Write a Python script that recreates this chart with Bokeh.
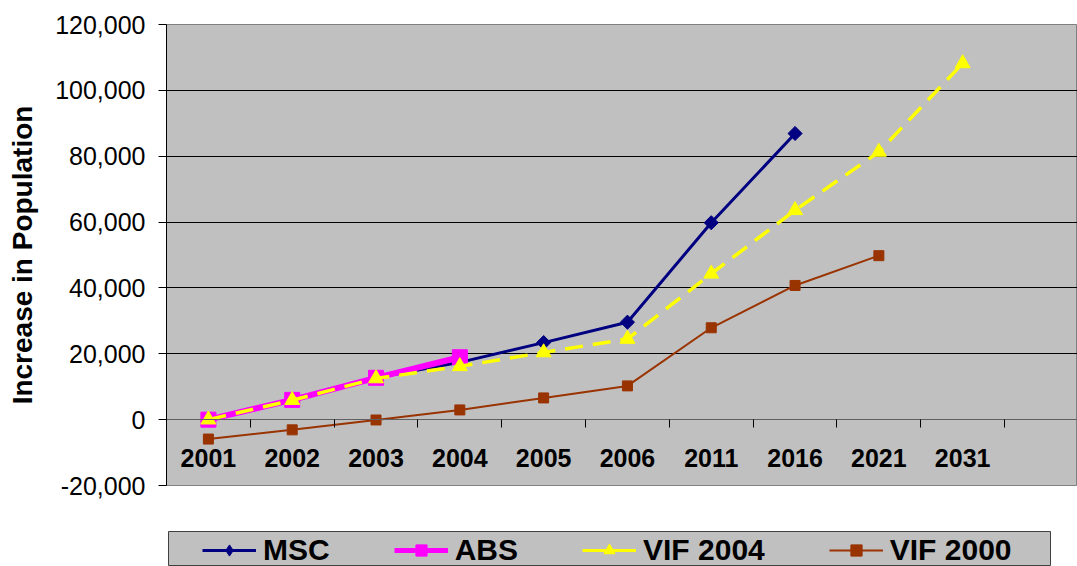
from bokeh.plotting import figure
from bokeh.layouts import column
from bokeh.models import (Range1d, FixedTicker, NumeralTickFormatter, LinearAxis,
                          Legend, LegendItem)
from bokeh.embed import file_html
from bokeh.resources import INLINE

# ---- data ----
years = ["2001", "2002", "2003", "2004", "2005", "2006", "2011", "2016", "2021", "2031"]
msc = [0, 5800, 12700, 17400, 23400, 29600, 59800, 86900]
abs_ = [0, 6000, 12700, 18950]
vif2004 = [0, 5900, 12500, 16200, 20400, 24500, 44300, 63600, 81300, 108200]
vif2000 = [-5900, -3100, -100, 2950, 6600, 10250, 27900, 40750, 49800]
y_ticks = [-20000, 0, 20000, 40000, 60000, 80000, 100000, 120000]
series_names = ["MSC", "ABS", "VIF 2004", "VIF 2000"]

FONT = "Liberation Sans"

STYLES = {
    "MSC": dict(color="#000080", width=3, dash="solid", marker="square", angle=0.785398, size=10,
                lg_width=3, lg_marker="diamond", lg_size=13),
    "ABS": dict(color="#FF00FF", width=6, dash="solid", marker="square", angle=0.0, size=15,
                lg_width=5, lg_marker="square", lg_size=14),
    "VIF 2004": dict(color="#FFFF00", width=3.5, dash="18 10", marker="triangle", angle=0.0, size=15,
                     lg_width=3, lg_marker="triangle", lg_size=11),
    "VIF 2000": dict(color="#993300", width=2, dash="solid", marker="square", angle=0.0, size=10,
                     lg_width=2, lg_marker="square", lg_size=8),
}

p = figure(width=1077, height=530, output_backend="svg", toolbar_location=None,
           x_range=Range1d(-0.5, 10.37), y_range=Range1d(-20000, 120000),
           min_border_left=166, min_border_right=0, min_border_top=24,
           min_border_bottom=45, x_axis_location=None, y_axis_location=None)
p.frame_align = False
p.background_fill_color = "#C0C0C0"
p.border_fill_color = "white"
p.outline_line_color = "#808080"
p.xgrid.visible = False

# y axis
yax = LinearAxis(ticker=FixedTicker(ticks=y_ticks),
                 formatter=NumeralTickFormatter(format="0,0"),
                 axis_label="Increase in Population")
yax.axis_line_color = "black"
yax.major_tick_out = 8
yax.major_tick_in = 0
yax.minor_tick_line_color = None
yax.major_label_text_font = FONT
yax.major_label_text_font_size = "25px"
yax.major_label_text_color = "black"
yax.major_label_standoff = 13
yax.axis_label_text_font = FONT
yax.axis_label_text_font_size = "28px"
yax.axis_label_text_font_style = "bold"
yax.axis_label_text_color = "black"
yax.axis_label_standoff = 14
p.add_layout(yax, "left")

p.ygrid.ticker = FixedTicker(ticks=y_ticks)
p.ygrid.grid_line_color = "black"
p.ygrid.grid_line_width = 1

# x axis: tick marks between categories, crossing at zero
xtick_ax = LinearAxis(ticker=FixedTicker(ticks=[i + 0.5 for i in range(len(years))]),
                      fixed_location=0)
xtick_ax.axis_line_color = "#606060"
xtick_ax.major_tick_line_color = "black"
xtick_ax.major_tick_out = 8
xtick_ax.major_tick_in = 0
xtick_ax.minor_tick_line_color = None
xtick_ax.major_label_text_font_size = "0px"
xtick_ax.major_label_text_alpha = 0
p.add_layout(xtick_ax, "below")

# x axis labels at category centres
xlab_ax = LinearAxis(ticker=FixedTicker(ticks=list(range(len(years)))),
                     fixed_location=0,
                     major_label_overrides={i: y for i, y in enumerate(years)})
xlab_ax.axis_line_color = None
xlab_ax.major_tick_line_color = None
xlab_ax.minor_tick_line_color = None
xlab_ax.major_label_text_font = FONT
xlab_ax.major_label_text_font_size = "25px"
xlab_ax.major_label_text_font_style = "bold"
xlab_ax.major_label_text_color = "black"
xlab_ax.major_label_standoff = 23
p.add_layout(xlab_ax, "below")

# series
for name, vals in zip(series_names, [msc, abs_, vif2004, vif2000]):
    s = STYLES[name]
    xs = list(range(len(vals)))
    p.line(xs, vals, line_color=s["color"], line_width=s["width"], line_dash=s["dash"])
    p.scatter(xs, vals, marker=s["marker"], angle=s["angle"], size=s["size"],
              fill_color=s["color"], line_color=s["color"])

# ---- legend strip (separate figure acting as the legend box) ----
lg = figure(width=1077, height=36, output_backend="svg", toolbar_location=None,
            x_range=Range1d(0, 1), y_range=Range1d(0, 1),
            min_border_left=168, min_border_right=27, min_border_top=1,
            min_border_bottom=0, x_axis_location=None, y_axis_location=None)
lg.frame_align = False
lg.background_fill_color = "#C0C0C0"
lg.border_fill_color = "white"
lg.outline_line_color = "#404040"
lg.xgrid.visible = False
lg.ygrid.visible = False

items = []
for name in series_names:
    s = STYLES[name]
    # proxy renderers kept outside the visible range, used only for legend swatches
    rl = lg.line([-10, -9], [-10, -9], line_color=s["color"], line_width=s["lg_width"])
    rm = lg.scatter([-10], [-10], marker=s["lg_marker"], size=s["lg_size"],
                    fill_color=s["color"], line_color=s["color"])
    items.append(LegendItem(label=name, renderers=[rl, rm]))

legend = Legend(items=items, orientation="horizontal", location=(34, -1))
legend.padding = 0
legend.margin = 0
legend.spacing = 64
legend.glyph_width = 54
legend.glyph_height = 28
legend.label_height = 28
legend.label_standoff = 7
legend.background_fill_alpha = 0
legend.border_line_color = None
legend.label_text_font = FONT
legend.label_text_font_size = "30px"
legend.label_text_font_style = "bold"
legend.label_text_color = "black"
lg.add_layout(legend, "center")

layout = column(p, lg, spacing=0)
open("out.html", "w").write(file_html(layout, INLINE))
